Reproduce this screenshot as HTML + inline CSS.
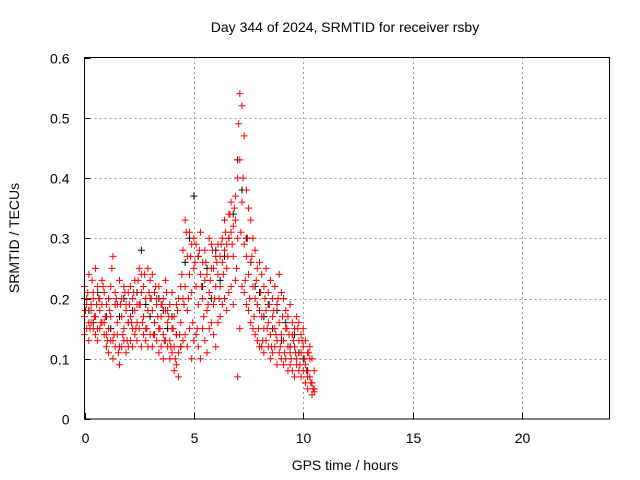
<!DOCTYPE html>
<html><head><meta charset="utf-8"><style>
html,body{margin:0;padding:0;background:#fff;}
svg{display:block;font-family:"Liberation Sans",sans-serif;}
</style></head><body>
<svg id="chart" width="640" height="480" viewBox="0 0 640 480">
<rect width="640" height="480" fill="#fff"/>
<text x="345" y="32" font-size="14" text-anchor="middle">Day 344 of 2024, SRMTID for receiver rsby</text>
<text x="345" y="470" font-size="14" text-anchor="middle">GPS time / hours</text>
<text transform="translate(19,238) rotate(-90)" font-size="14" text-anchor="middle">SRMTID / TECUs</text>
<g id="grid"></g><g id="ticks"></g><g id="pts"></g>
<rect x="84.5" y="57.5" width="525" height="361.5" fill="none" stroke="#000"/>
</svg>
<script>
const xTicks=[0,5,10,15,20];
const yTicks=[0,0.1,0.2,0.3,0.4,0.5,0.6];
const yTickLabels=["0","0.1","0.2","0.3","0.4","0.5","0.6"];
const redStart=0, redStep=0.1, redDStart=0.05, blackStart=0, blackStep=0.2;
const redA=[.17,.19,.16,.18,.20,.17,.15,.18,.19,.16,.14,
.15,.17,.13,.19,.16,.12,.17,.15,.18,.16,
.17,.15,.18,.16,.19,.21,.17,.15,.18,.20,
.18,.16,.19,.15,.17,.14,.18,.16,.13,.15,
.12,.14,.11,.16,.20,.22,.18,.24,.21,.25,
.22,.19,.24,.20,.23,.18,.21,.25,.19,.22,
.24,.22,.26,.28,.25,.30,.31,.27,.33,.30,
.43,.36,.29,.27,.24,.26,.22,.20,.19,.18,
.17,.15,.18,.16,.14,.17,.15,.13,.16,.14,
.13,.15,.12,.11,.14,.12,.10,.13,.11,.12,
.09,.07,.10,.06,.05];
const redB=[.22,.20,.24,.19,.21,.25,.22,.20,.23,.21,.19,
.20,.22,.27,.21,.19,.23,.20,.22,.19,.21,
.22,.20,.23,.19,.25,.24,.22,.20,.25,.23,
.24,.21,.20,.22,.19,.20,.23,.18,.19,.21,
.17,.19,.20,.22,.28,.33,.27,.31,.29,.30,
.29,.27,.31,.26,.28,.24,.30,.29,.25,.27,
.29,.27,.30,.33,.29,.34,.36,.32,.37,.40,
.54,.52,.47,.38,.35,.33,.30,.28,.25,.26,
.24,.22,.25,.21,.23,.20,.22,.19,.24,.21,
.20,.18,.17,.19,.16,.15,.17,.16,.14,.15,
.13,.11,.12,.10,.08];
const redC=[.14,.15,.13,.16,.15,.14,.13,.15,.16,.14,.12,
.11,.13,.10,.12,.14,.09,.12,.13,.11,.12,
.13,.12,.14,.13,.15,.12,.14,.13,.12,.14,
.12,.14,.13,.11,.12,.10,.13,.12,.10,.11,
.08,.09,.07,.12,.13,.14,.12,.15,.10,.13,
.14,.12,.10,.15,.13,.11,.15,.16,.14,.12,
.16,.17,.19,.20,.18,.21,.22,.19,.23,.07,
.15,.22,.21,.19,.18,.16,.15,.14,.13,.12,
.12,.11,.13,.12,.10,.11,.12,.09,.11,.10,
.09,.10,.08,.09,.08,.07,.09,.08,.07,.08,
.06,.05,.07,.04,.045];
const redD=[.18,.21,.15,.23,.17,.19,.20,.16,.22,.17,
.13,.18,.25,.14,.20,.11,.19,.14,.21,.13,
.19,.16,.21,.15,.23,.19,.16,.24,.15,.21,
.20,.14,.22,.17,.15,.19,.13,.21,.17,.12,
.15,.10,.18,.14,.24,.19,.31,.20,.27,.16,
.26,.15,.28,.22,.17,.26,.19,.23,.28,.20,
.26,.20,.29,.24,.31,.27,.34,.29,.35,.25,
.49,.31,.40,.23,.30,.20,.27,.17,.23,.15,
.21,.13,.20,.15,.19,.12,.18,.14,.20,.12,
.17,.11,.15,.14,.10,.13,.11,.15,.09,.13,
.10,.08,.11,.06,.05];
const black=[.20,.18,.16,.21,.19,.17,.15,.19,.17,.20,.16,
.18,.21,.28,.19,.17,.16,.20,.18,.15,.17,
.14,.12,.26,.30,.37,.27,.22,.25,.20,.28,
.23,.27,.30,.34,.43,.38,.30,.26,.22,.21,
.17,.19,.15,.18,.13,.16,.12,.14,.11,.10,
.08,.06];
const X0=84.5,X1=609.5,Y0=419,Y1=57.5;
const xs=v=>X0+(v/24)*(X1-X0);
const ys=v=>Y0-(v/0.6)*(Y0-Y1);
const NS="http://www.w3.org/2000/svg";
const grid=document.getElementById('grid'),ticks=document.getElementById('ticks'),pts=document.getElementById('pts');
function mk(tag,attrs,parent){const e=document.createElementNS(NS,tag);for(const k in attrs)e.setAttribute(k,attrs[k]);parent.appendChild(e);return e;}
yTicks.forEach((v,i)=>{const y=Math.round(ys(v))+0.5;
 if(i>0&&i<yTicks.length-1){const g=mk('line',{x1:X0,x2:X1,y1:y,y2:y,stroke:'#999','stroke-dasharray':'2,3'},grid);
 
 }
 const t=mk('line',{x1:X0,x2:X0+6,y1:y,y2:y,stroke:'#000'},ticks);
 
 
 const l=mk('text',{x:X0-15,y:y+5,'font-size':'14','text-anchor':'end'},ticks);l.textContent=yTickLabels[i];
 
 
});
xTicks.forEach(v=>{const x=Math.round(xs(v))+0.5;
 if(v>0){const g=mk('line',{x1:x,x2:x,y1:Y0,y2:Y1,stroke:'#999','stroke-dasharray':'2,3'},grid);
 
 }
 const t=mk('line',{x1:x,x2:x,y1:Y0,y2:Y0-6,stroke:'#000'},ticks);
 
 
 const l=mk('text',{x:x,y:443,'font-size':'14','text-anchor':'middle'},ticks);l.textContent=String(v);
 
 
});
function plus(t,v,color,name){const x=xs(t),y=ys(v);
 const p=mk('path',{d:`M${x-3.5} ${y}H${x+3.5}M${x} ${y-3.5}V${y+3.5}`,stroke:color,'stroke-width':'1',fill:'none'},pts);
 
 
}
black.forEach((v,i)=>plus(blackStart+i*blackStep,v,'#000','black-point'));
[redA,redB,redC].forEach(s=>s.forEach((v,i)=>plus(redStart+i*redStep,v,'#ff0000','red-point')));
redD.forEach((v,i)=>plus(redDStart+i*redStep,v,'#ff0000','red-point'));
</script>
</body></html>
